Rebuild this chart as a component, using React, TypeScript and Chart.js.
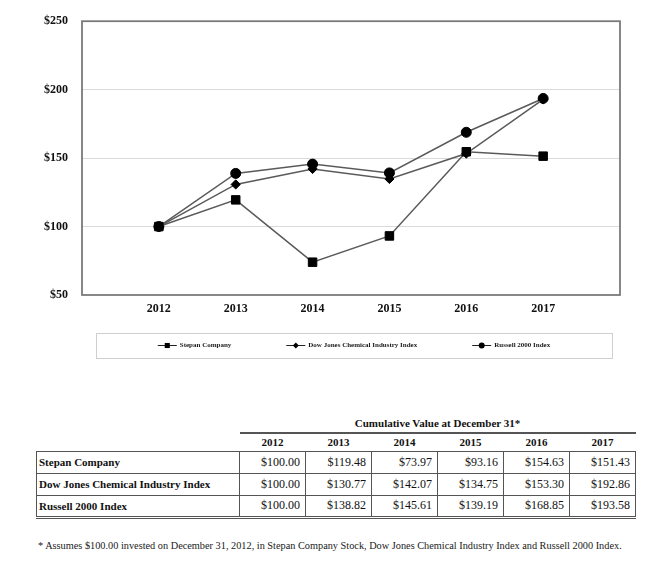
import React, { useEffect, useRef } from "react";
import { Chart, registerables } from "chart.js";
import { drawPoint } from "chart.js/helpers";

Chart.register(...registerables);

const years = [2012, 2013, 2014, 2015, 2016, 2017];
const stepan = [100, 119.48, 73.97, 93.16, 154.63, 151.43];
const dowJones = [100, 130.77, 142.07, 134.75, 153.3, 192.86];
const russell = [100, 138.82, 145.61, 139.19, 168.85, 193.58];
const seriesNames = ["Stepan Company", "Dow Jones Chemical Industry Index", "Russell 2000 Index"];
const markerStyles = ["rect", "rectRot", "circle"];
const markerSizes = [6, 4.6, 5];
const yMin = 50;
const yMax = 250;
const yStep = 50;
const tableTitle = "Cumulative Value at December 31*";
const footnote =
  "* Assumes $100.00 invested on December 31, 2012, in Stepan Company Stock, Dow Jones Chemical Industry Index and Russell 2000 Index.";

const SERIF = '"Liberation Serif", "Times New Roman", serif';
const LINE = "#5a5a5a";

// frame around the plot + boxed legend under the x labels
const framePlugin = {
  id: "frame",
  afterDraw(chart: any) {
    const { ctx, chartArea } = chart;
    ctx.save();
    ctx.strokeStyle = "#7a7a7a";
    ctx.lineWidth = 1.8;
    ctx.strokeRect(chartArea.left, chartArea.top, chartArea.right - chartArea.left, chartArea.bottom - chartArea.top);

    const top = chartArea.bottom + 38;
    const bottom = chartArea.bottom + 63;
    const left = chartArea.left + 14;
    const right = chartArea.right - 8;
    ctx.strokeStyle = "#cfcfcf";
    ctx.lineWidth = 1;
    ctx.strokeRect(left + 0.5, top + 0.5, right - left, bottom - top);

    ctx.font = "bold 7px " + SERIF;
    const swatch = 19;
    const gap = 55;
    const items = chart.data.datasets.map((ds: any) => ({
      ds,
      w: swatch + 3 + ctx.measureText(ds.label).width,
    }));
    const total = items.reduce((s: number, it: any) => s + it.w, 0) + gap * (items.length - 1);
    let x = (left + right) / 2 - total / 2;
    const y = (top + bottom) / 2;
    items.forEach((it: any) => {
      ctx.strokeStyle = "#222";
      ctx.lineWidth = 1;
      ctx.beginPath();
      ctx.moveTo(x, y);
      ctx.lineTo(x + swatch, y);
      ctx.stroke();
      ctx.fillStyle = "#000";
      drawPoint(ctx, { pointStyle: it.ds.pointStyle, radius: it.ds.pointStyle === "rect" ? 3.6 : 3, rotation: 0, borderWidth: 0 } as any, x + swatch / 2, y);
      ctx.fillStyle = "#1a1a1a";
      ctx.textBaseline = "middle";
      ctx.textAlign = "left";
      ctx.fillText(it.ds.label, x + swatch + 3, y);
      x += it.w + gap;
    });
    ctx.restore();
  },
};

const fmt = (v: number) => "$" + v.toFixed(2);

const PerformanceChart: React.FC = () => {
  const chartRef = useRef<HTMLCanvasElement>(null);
  const chartInstance = useRef<Chart | null>(null);

  useEffect(() => {
    if (!chartRef.current) return;
    const ctx = chartRef.current.getContext("2d");
    if (!ctx) return;
    if (chartInstance.current) chartInstance.current.destroy();

    const series = [stepan, dowJones, russell];
    chartInstance.current = new Chart(ctx, {
      type: "line",
      data: {
        datasets: series.map((vals, i) => ({
          label: seriesNames[i],
          data: years.map((yr, j) => ({ x: yr, y: vals[j] })),
          borderColor: LINE,
          borderWidth: 1.5,
          pointStyle: markerStyles[i],
          pointRadius: markerSizes[i],
          pointBackgroundColor: "#000",
          pointBorderColor: "#000",
          pointBorderWidth: 1,
          tension: 0,
        })),
      },
      options: {
        animation: false,
        responsive: true,
        maintainAspectRatio: false,
        layout: { padding: { top: 15, right: 26, left: 0, bottom: 45 } },
        plugins: {
          legend: { display: false },
          tooltip: { enabled: false },
        },
        scales: {
          x: {
            type: "linear",
            min: years[0] - 1,
            max: years[years.length - 1] + 1,
            grid: { display: false, drawTicks: false },
            border: { display: false },
            afterFit: (s: any) => {
              s.height = 30;
            },
            ticks: {
              stepSize: 1,
              padding: 7,
              color: "#111",
              font: { family: SERIF, size: 12, weight: "bold" },
              callback: (v: any) => (years.includes(v) ? String(v) : ""),
            },
          },
          y: {
            min: yMin,
            max: yMax,
            grid: {
              drawTicks: false,
              color: (c: any) => (c.tick && (c.tick.value === yMin || c.tick.value === yMax) ? "transparent" : "#dadada"),
            },
            border: { display: false },
            afterFit: (s: any) => {
              s.width = 82;
            },
            ticks: {
              stepSize: yStep,
              padding: 14,
              color: "#111",
              font: { family: SERIF, size: 12, weight: "bold" },
              callback: (v: any) => "$" + v,
            },
          },
        },
      },
      plugins: [framePlugin],
    } as any);

    return () => {
      if (chartInstance.current) {
        chartInstance.current.destroy();
        chartInstance.current = null;
      }
    };
  }, []);

  return (
    <div style={{ position: "absolute", left: 0, top: 0, width: 646, height: 370 }}>
      <canvas ref={chartRef} />
    </div>
  );
};

const cell: React.CSSProperties = { border: "1px solid #555", padding: 0 };

const App: React.FC = () => {
  const rows = [stepan, dowJones, russell];
  return (
    <div style={{ position: "absolute", left: 0, top: 0, width: 646, height: 565, background: "#fff", fontFamily: SERIF, color: "#111" }}>
      <PerformanceChart />
      <table
        style={{
          position: "absolute",
          left: 36,
          top: 414,
          width: 600,
          borderCollapse: "collapse",
          tableLayout: "fixed",
          fontSize: 11,
        }}
      >
        <colgroup>
          <col style={{ width: 203 }} />
          {years.map((y) => (
            <col key={y} style={{ width: 66 }} />
          ))}
        </colgroup>
        <thead>
          <tr style={{ height: 19 }}>
            <th style={{ padding: 0 }} />
            <th colSpan={years.length} style={{ padding: 0, fontWeight: "bold", borderBottom: "2px solid #555", verticalAlign: "middle" }}>
              {tableTitle}
            </th>
          </tr>
          <tr style={{ height: 18 }}>
            <th style={{ padding: 0 }} />
            {years.map((y) => (
              <th key={y} style={{ padding: 0, fontWeight: "bold", textAlign: "center" }}>
                {y}
              </th>
            ))}
          </tr>
        </thead>
        <tbody>
          {rows.map((vals, i) => (
            <tr key={i} style={{ height: 22, borderBottom: i === rows.length - 1 ? "3px double #555" : undefined }}>
              <td style={{ ...cell, fontWeight: "bold", paddingLeft: 2 }}>{seriesNames[i]}</td>
              {vals.map((v, j) => (
                <td key={j} style={{ ...cell, textAlign: "right", paddingRight: 5, fontSize: 12 }}>
                  {fmt(v)}
                </td>
              ))}
            </tr>
          ))}
        </tbody>
      </table>
      <div style={{ position: "absolute", left: 38, top: 540, fontSize: 10.3, color: "#1a1a1a", whiteSpace: "nowrap" }}>{footnote}</div>
    </div>
  );
};

export default App;
